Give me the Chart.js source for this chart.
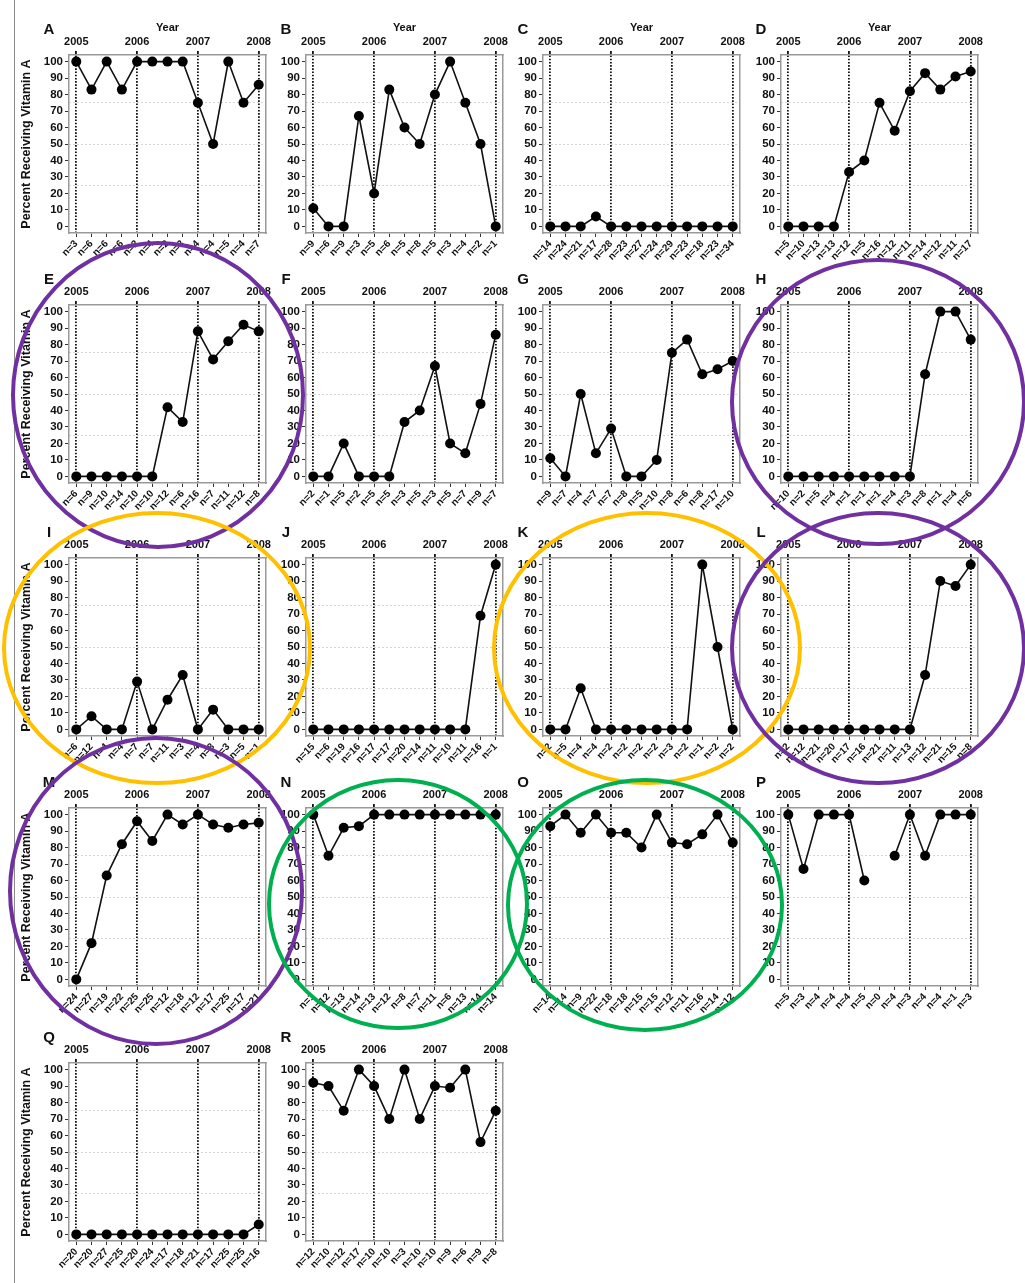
<!DOCTYPE html>
<html>
<head>
<meta charset="utf-8">
<script src="https://cdn.jsdelivr.net/npm/chart.js@4.4.1/dist/chart.umd.min.js"></script>
<style>
html, body { margin: 0; padding: 0; background: #fff; }
#page { position: relative; width: 1025px; height: 1283px; overflow: hidden; }
#page canvas { position: absolute; }
#rule { position: absolute; left: 14px; top: 0; width: 1px; height: 1283px; background: #8a8a8a; }
</style>
</head>
<body>
<div id="page"><div id="rule"></div></div>
<script>
// quarterly samples, 2005 Q1 .. 2008 Q1
const years = ['2005', '2006', '2007', '2008']
const yTickValues = [0, 10, 20, 30, 40, 50, 60, 70, 80, 90, 100]
const referenceLines = [25, 50, 75]

const nA = [3, 6, 6, 6, 2, 4, 2, 3, 4, 4, 5, 4, 7]
const valA = [100, 83, 100, 83, 100, 100, 100, 100, 75, 50, 100, 75, 86]
const nB = [9, 6, 9, 3, 5, 6, 5, 8, 5, 3, 4, 2, 1]
const valB = [11, 0, 0, 67, 20, 83, 60, 50, 80, 100, 75, 50, 0]
const nC = [14, 24, 21, 17, 28, 23, 27, 24, 29, 23, 18, 23, 34]
const valC = [0, 0, 0, 6, 0, 0, 0, 0, 0, 0, 0, 0, 0]
const nD = [5, 10, 13, 13, 12, 5, 16, 12, 11, 14, 12, 11, 17]
const valD = [0, 0, 0, 0, 33, 40, 75, 58, 82, 93, 83, 91, 94]
const nE = [6, 9, 10, 14, 10, 10, 12, 6, 16, 7, 11, 12, 8]
const valE = [0, 0, 0, 0, 0, 0, 42, 33, 88, 71, 82, 92, 88]
const nF = [2, 1, 5, 2, 5, 5, 3, 5, 3, 5, 7, 9, 7]
const valF = [0, 0, 20, 0, 0, 0, 33, 40, 67, 20, 14, 44, 86]
const nG = [9, 7, 4, 7, 7, 8, 5, 10, 8, 6, 8, 17, 10]
const valG = [11, 0, 50, 14, 29, 0, 0, 10, 75, 83, 62, 65, 70]
const nH = [10, 2, 5, 4, 1, 1, 1, 4, 3, 8, 1, 4, 6]
const valH = [0, 0, 0, 0, 0, 0, 0, 0, 0, 62, 100, 100, 83]
const nI = [6, 12, 4, 4, 7, 7, 11, 3, 4, 8, 3, 5, 1]
const valI = [0, 8, 0, 0, 29, 0, 18, 33, 0, 12, 0, 0, 0]
const nJ = [15, 6, 19, 16, 17, 17, 20, 14, 11, 10, 11, 16, 1]
const valJ = [0, 0, 0, 0, 0, 0, 0, 0, 0, 0, 0, 69, 100]
const nK = [2, 5, 4, 4, 2, 2, 2, 2, 3, 2, 1, 2, 2]
const valK = [0, 0, 25, 0, 0, 0, 0, 0, 0, 0, 100, 50, 0]
const nL = [2, 12, 21, 20, 17, 16, 21, 11, 13, 12, 21, 15, 8]
const valL = [0, 0, 0, 0, 0, 0, 0, 0, 0, 33, 90, 87, 100]
const nM = [24, 27, 19, 22, 25, 25, 12, 18, 12, 17, 25, 17, 21]
const valM = [0, 22, 63, 82, 96, 84, 100, 94, 100, 94, 92, 94, 95]
const nN = [1, 12, 13, 14, 13, 12, 8, 7, 11, 6, 13, 14, 14]
const valN = [100, 75, 92, 93, 100, 100, 100, 100, 100, 100, 100, 100, 100]
const nO = [14, 14, 9, 22, 18, 18, 15, 15, 12, 11, 16, 14, 12]
const valO = [93, 100, 89, 100, 89, 89, 80, 100, 83, 82, 88, 100, 83]
const nP = [5, 3, 4, 4, 4, 5, 0, 4, 3, 4, 4, 1, 3]
const valP = [100, 67, 100, 100, 100, 60, null, 75, 100, 75, 100, 100, 100]
const nQ = [20, 20, 27, 25, 20, 24, 17, 18, 21, 17, 25, 25, 16]
const valQ = [0, 0, 0, 0, 0, 0, 0, 0, 0, 0, 0, 0, 6]
const nR = [12, 10, 12, 17, 10, 10, 3, 10, 10, 9, 6, 9, 8]
const valR = [92, 90, 75, 100, 90, 70, 100, 70, 90, 89, 100, 56, 75]

const panels = [
    ['A', nA, valA], ['B', nB, valB], ['C', nC, valC], ['D', nD, valD],
    ['E', nE, valE], ['F', nF, valF], ['G', nG, valG], ['H', nH, valH],
    ['I', nI, valI], ['J', nJ, valJ], ['K', nK, valK], ['L', nL, valL],
    ['M', nM, valM], ['N', nN, valN], ['O', nO, valO], ['P', nP, valP],
    ['Q', nQ, valQ], ['R', nR, valR]
]

// layout of the plot frames on the page
const frameLeft = [69, 306, 543, 781]
const frameTop = [55, 305, 558, 808, 1063]
const frameW = 197, frameH = 178
const padL = 52, padR = 22, padB = 36

Chart.defaults.font.family = '"Liberation Sans", Arial, sans-serif'
Chart.defaults.color = '#111'

const bold = size => ({ size: size, weight: 'bold' })

const panelLetter = {
    id: 'panelLetter',
    afterDraw(chart, args, opts) {
        const { ctx, chartArea } = chart
        ctx.save()
        ctx.font = 'bold 15px "Liberation Sans", Arial, sans-serif'
        ctx.fillStyle = '#111'
        ctx.textAlign = 'center'
        ctx.textBaseline = 'middle'
        ctx.fillText(opts.text, chartArea.left - 20, chartArea.top - 25)
        ctx.restore()
    }
}

const page = document.getElementById('page')

panels.forEach(([letter, counts, values], i) => {
    const col = i % 4, row = Math.floor(i / 4)
    const padT = row === 0 ? 42 : 36
    const canvas = document.createElement('canvas')
    canvas.width = padL + frameW + padR
    canvas.height = padT + frameH + padB
    canvas.style.left = (frameLeft[col] - padL) + 'px'
    canvas.style.top = (frameTop[row] - padT) + 'px'
    page.appendChild(canvas)

    new Chart(canvas, {
        type: 'line',
        data: {
            datasets: [{
                data: values.map((v, k) => ({ x: k, y: v })),
                borderColor: '#111',
                borderWidth: 1.6,
                pointRadius: 5,
                pointBackgroundColor: '#000',
                pointBorderWidth: 0,
                spanGaps: false,
                clip: false
            }]
        },
        options: {
            responsive: false,
            animation: false,
            devicePixelRatio: 1,
            layout: { padding: 0 },
            plugins: {
                legend: { display: false },
                tooltip: { enabled: false },
                panelLetter: { text: letter }
            },
            scales: {
                x: {
                    type: 'linear', position: 'bottom', min: -0.48, max: 12.48,
                    afterBuildTicks: s => { s.ticks = counts.map((_, k) => ({ value: k })) },
                    afterFit: s => { s.height = padB },
                    ticks: {
                        callback: v => 'n=' + counts[v],
                        autoSkip: false, minRotation: 45, maxRotation: 45,
                        padding: 1, font: bold(10)
                    },
                    grid: { drawOnChartArea: false, tickLength: 4, color: '#333' },
                    border: { color: '#999', width: 1.5 }
                },
                xTop: {
                    type: 'linear', position: 'top', min: -0.48, max: 12.48,
                    afterBuildTicks: s => { s.ticks = years.map((_, k) => ({ value: k * 4 })) },
                    afterFit: s => { s.height = padT },
                    ticks: { callback: v => years[v / 4], autoSkip: false, maxRotation: 0, padding: 2, font: bold(11) },
                    grid: { color: '#111', lineWidth: 1.8, tickLength: 4 },
                    border: { color: '#999', width: 1.5, dash: [1.6, 1.6] },
                    title: { display: row === 0, text: 'Year', font: bold(11), padding: { top: 8, bottom: 0 } }
                },
                y: {
                    min: -4, max: 104,
                    afterBuildTicks: s => { s.ticks = yTickValues.map(v => ({ value: v })) },
                    afterFit: s => { s.width = padL },
                    ticks: { padding: 2, font: bold(11.5) },
                    grid: { drawOnChartArea: false, tickLength: 4, color: '#333' },
                    border: { color: '#999', width: 1.5 },
                    title: { display: col === 0, text: 'Percent Receiving Vitamin A', font: bold(12.5), padding: { top: 2, bottom: 0 } }
                },
                yRef: {
                    position: 'right', min: -4, max: 104,
                    afterBuildTicks: s => { s.ticks = referenceLines.map(v => ({ value: v })) },
                    afterFit: s => { s.width = padR },
                    ticks: { display: false },
                    grid: { color: '#d6d6d6', lineWidth: 1, drawTicks: false },
                    border: { color: '#999', width: 1.5, dash: [2, 2] }
                }
            }
        },
        plugins: [panelLetter]
    })
})

// hand-drawn highlight rings laid over the figure
const rings = [
    { cx: 158, cy: 395, rx: 145, ry: 152, color: '#7030a0' },
    { cx: 878, cy: 402, rx: 146, ry: 142, color: '#7030a0' },
    { cx: 157, cy: 648, rx: 153, ry: 135, color: '#ffc000' },
    { cx: 647, cy: 648, rx: 153, ry: 135, color: '#ffc000' },
    { cx: 878, cy: 648, rx: 146, ry: 135, color: '#7030a0' },
    { cx: 156, cy: 891, rx: 146, ry: 153, color: '#7030a0' },
    { cx: 398, cy: 904, rx: 129, ry: 124, color: '#00b050' },
    { cx: 645, cy: 905, rx: 137, ry: 125, color: '#00b050' }
]
const overlay = document.createElement('canvas')
overlay.width = 1025
overlay.height = 1283
overlay.style.left = '0px'
overlay.style.top = '0px'
overlay.style.pointerEvents = 'none'
page.appendChild(overlay)
const octx = overlay.getContext('2d')
octx.lineWidth = 4
rings.forEach(r => {
    octx.strokeStyle = r.color
    octx.beginPath()
    octx.ellipse(r.cx, r.cy, r.rx, r.ry, 0, 0, Math.PI * 2)
    octx.stroke()
})
</script>
</body>
</html>
